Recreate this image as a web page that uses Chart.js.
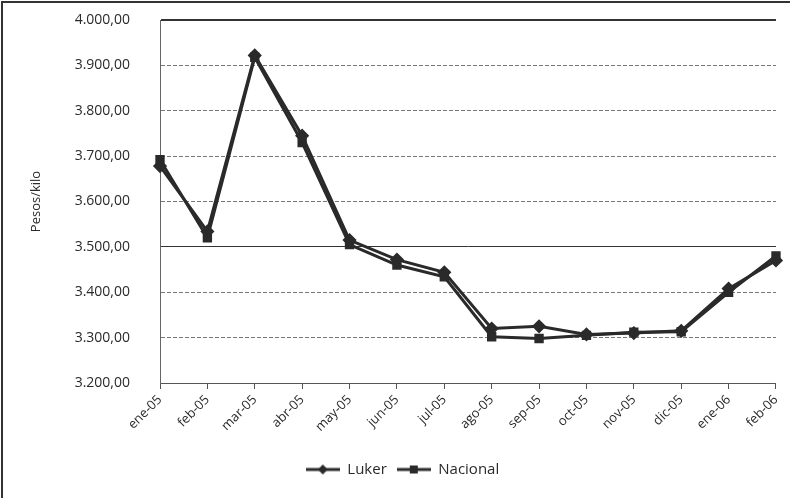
<!DOCTYPE html>
<html>
<head>
<meta charset="utf-8">
<script src="https://cdn.jsdelivr.net/npm/chart.js@4"></script>
<style>
  body { margin: 0; background: #fff; }
  #wrap { position: relative; width: 790px; height: 498px; }
</style>
</head>
<body>
<div id="wrap"><canvas id="priceChart"></canvas></div>
<script>
// Precio por kilo, ene-05 a feb-06
const months = ['ene-05', 'feb-05', 'mar-05', 'abr-05', 'may-05', 'jun-05', 'jul-05',
                'ago-05', 'sep-05', 'oct-05', 'nov-05', 'dic-05', 'ene-06', 'feb-06'];
const luker    = [3678, 3534, 3922, 3745, 3515, 3472, 3444, 3320, 3325, 3307, 3310, 3315, 3408, 3470];
const nacional = [3692, 3520, 3918, 3730, 3505, 3460, 3434, 3302, 3298, 3305, 3312, 3313, 3400, 3480];
const yTicks = [3200, 3300, 3400, 3500, 3600, 3700, 3800, 3900, 4000];
const solidLines = [3500, 4000];

const FONT = "'Open Sans', 'DejaVu Sans', sans-serif";
const INK = '#2a2a2a';

function formatPesos(v) {
    const parts = v.toFixed(2).split('.');
    const int = parts[0].replace(/\B(?=(\d{3})+(?!\d))/g, '.');
    return int + ',' + parts[1];
}

// little legend icon: line with marker in the middle
function legendIcon(style) {
    const c = document.createElement('canvas');
    c.width = 34; c.height = 12;
    const g = c.getContext('2d');
    g.strokeStyle = INK; g.fillStyle = INK; g.lineWidth = 3;
    g.beginPath(); g.moveTo(0, 6); g.lineTo(34, 6); g.stroke();
    if (style === 'diamond') {
        g.beginPath(); g.moveTo(17, 1); g.lineTo(22, 6); g.lineTo(17, 11); g.lineTo(12, 6); g.closePath(); g.fill();
    } else {
        g.fillRect(13, 2, 8, 8);
    }
    return c;
}

// thin frame on the top and left edge, like the scanned figure
const framePlugin = {
    id: 'frame',
    afterDraw(chart) {
        const ctx = chart.ctx;
        ctx.save();
        ctx.strokeStyle = '#333';
        ctx.lineWidth = 2;
        ctx.beginPath();
        ctx.moveTo(2, chart.height);
        ctx.lineTo(2, 2);
        ctx.lineTo(chart.width, 2);
        ctx.stroke();
        ctx.restore();
    }
};

const isSolid = c => c.tick && solidLines.includes(c.tick.value);

const ctx = document.getElementById('priceChart').getContext('2d');
new Chart(ctx, {
    type: 'line',
    data: {
        labels: months,
        datasets: [
            {
                label: 'Luker',
                data: luker,
                borderColor: INK,
                backgroundColor: INK,
                borderWidth: 3,
                pointStyle: 'rectRot',
                pointRadius: 5,
                tension: 0
            },
            {
                label: 'Nacional',
                data: nacional,
                borderColor: INK,
                backgroundColor: INK,
                borderWidth: 3,
                pointStyle: 'rect',
                pointRadius: 4.5,
                tension: 0
            }
        ]
    },
    options: {
        responsive: true,
        maintainAspectRatio: false,
        animation: false,
        layout: { padding: { top: 20, right: 13, bottom: 11, left: 28 } },
        plugins: {
            tooltip: { enabled: false },
            legend: {
                position: 'bottom',
                labels: {
                    usePointStyle: true,
                    pointStyleWidth: 34,
                    font: { family: FONT, size: 15 },
                    color: INK,
                    padding: 10,
                    generateLabels(chart) {
                        return chart.data.datasets.map((ds, i) => ({
                            text: ds.label,
                            datasetIndex: i,
                            pointStyle: legendIcon(i === 0 ? 'diamond' : 'square'),
                            fontColor: INK,
                            hidden: false
                        }));
                    }
                }
            }
        },
        scales: {
            x: {
                offset: false,
                afterFit(scale) { scale.height = 69; },
                grid: {
                    drawOnChartArea: false,
                    drawTicks: true,
                    tickLength: 6,
                    tickColor: '#555',
                    color: '#555'
                },
                border: { display: true, color: '#555', dash: [2, 2] },
                ticks: {
                    color: INK,
                    font: { family: FONT, size: 13 },
                    maxRotation: 45,
                    minRotation: 45,
                    autoSkip: false,
                    padding: 3
                }
            },
            y: {
                min: 3200,
                max: 4000,
                afterFit(scale) {
                    scale.width = 132;
                    scale.paddingTop = 0;
                    scale.paddingBottom = 0;
                },
                afterBuildTicks(scale) { scale.ticks = yTicks.map(v => ({ value: v })); },
                grid: {
                    drawTicks: false,
                    color: c => isSolid(c) ? '#333' : '#777',
                    lineWidth: c => (c.tick && c.tick.value === 4000) ? 2 : 1
                },
                border: {
                    display: true,
                    color: '#666',
                    dash: c => isSolid(c) ? [] : [4, 2]
                },
                ticks: {
                    color: INK,
                    font: { family: FONT, size: 14 },
                    padding: 30,
                    callback: v => formatPesos(v)
                },
                title: {
                    display: true,
                    text: 'Pesos/kilo',
                    color: INK,
                    font: { family: FONT, size: 13 },
                    padding: { top: 0, bottom: 8 }
                }
            }
        }
    },
    plugins: [framePlugin]
});
</script>
</body>
</html>
